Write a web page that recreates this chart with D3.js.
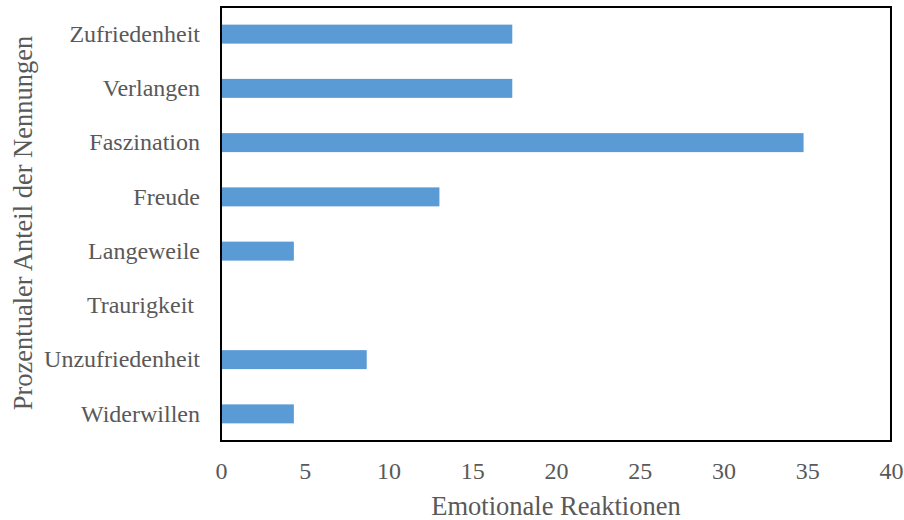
<!DOCTYPE html>
<html>
<head>
<meta charset="utf-8">
<script src="https://cdn.jsdelivr.net/npm/d3@7"></script>
<style>
  html, body { margin: 0; padding: 0; background: #fff; }
  svg { display: block; }
  text { font-family: "Liberation Serif", "Times New Roman", serif; fill: #595959; white-space: pre; }
</style>
</head>
<body>
<svg id="chart" width="904" height="520"></svg>
<script>
// Emotional reactions, share of mentions (%)
const categories = ["Zufriedenheit", "Verlangen", "Faszination", "Freude", "Langeweile", "Traurigkeit ", "Unzufriedenheit", "Widerwillen"];
const values = [17.39, 17.39, 34.78, 13.04, 4.35, 0, 8.70, 4.35];
const xTicks = [0, 5, 10, 15, 20, 25, 30, 35, 40];
const xTitle = "Emotionale Reaktionen";
const yTitle = "Prozentualer Anteil der Nennungen";

const svg = d3.select("#chart");
const plot = { left: 221, top: 7, right: 891, bottom: 441 };
const serif = "'Liberation Serif', 'Times New Roman', serif";

const x = d3.scaleLinear().domain([0, 40]).range([plot.left, plot.right]);
const y = d3.scaleBand().domain(categories).range([plot.top, plot.bottom]).paddingInner(0.65).paddingOuter(0.325);

// bars
svg.append("g").selectAll("rect")
  .data(categories.map((c, i) => ({ c, v: values[i] })))
  .join("rect")
  .attr("x", x(0))
  .attr("y", d => y(d.c))
  .attr("width", d => x(d.v) - x(0))
  .attr("height", y.bandwidth())
  .attr("fill", "#5B9BD5");

// category axis (labels only)
const yAxis = svg.append("g")
  .attr("transform", `translate(${plot.left},0)`)
  .attr("font-family", serif)
  .call(d3.axisLeft(y).tickSize(0).tickPadding(21));
yAxis.select(".domain").remove();
yAxis.selectAll("text")
  .style("font-family", serif)
  .style("font-size", "24px")
  .attr("fill", "#595959");

// value axis (labels only)
const xAxis = svg.append("g")
  .attr("transform", `translate(0,${plot.bottom})`)
  .attr("font-family", serif)
  .call(d3.axisBottom(x).tickValues(xTicks).tickFormat(d3.format("d")).tickSize(0).tickPadding(21));
xAxis.select(".domain").remove();
xAxis.selectAll("text")
  .style("font-family", serif)
  .style("font-size", "24px")
  .attr("fill", "#595959");

// plot frame
svg.append("rect")
  .attr("x", plot.left)
  .attr("y", plot.top)
  .attr("width", plot.right - plot.left)
  .attr("height", plot.bottom - plot.top)
  .attr("fill", "none")
  .attr("stroke", "#000")
  .attr("stroke-width", 2);

// axis titles
svg.append("text")
  .attr("x", (plot.left + plot.right) / 2)
  .attr("y", 515)
  .attr("text-anchor", "middle")
  .style("font-size", "26.5px")
  .text(xTitle);

svg.append("text")
  .attr("transform", `translate(32,${(plot.top + plot.bottom) / 2 - 1}) rotate(-90)`)
  .attr("text-anchor", "middle")
  .style("font-size", "26.5px")
  .text(yTitle);
</script>
</body>
</html>
